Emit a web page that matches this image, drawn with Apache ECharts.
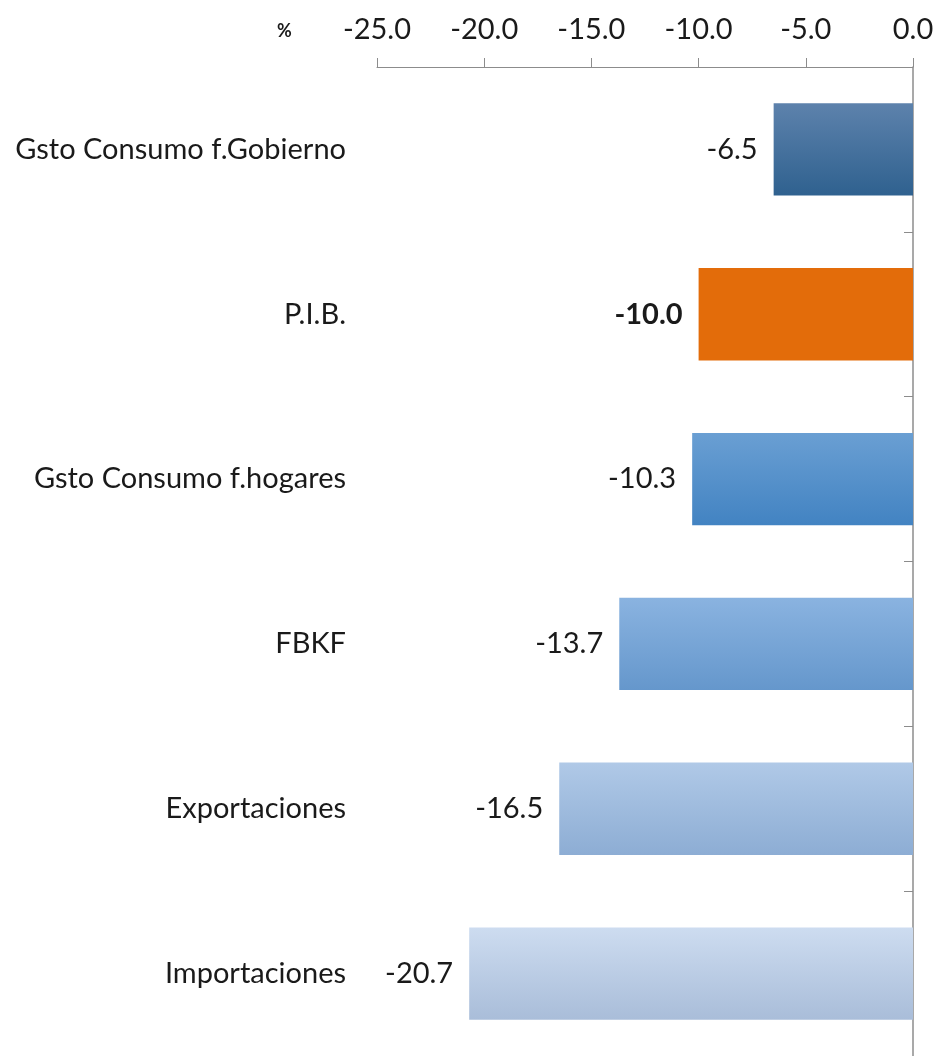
<!DOCTYPE html>
<html>
<head>
<meta charset="utf-8">
<script src="https://cdn.jsdelivr.net/npm/echarts@6/dist/echarts.min.js"></script>
<style>
  html, body { margin: 0; padding: 0; background: #fff; }
  #chart { width: 939px; height: 1056px; }
</style>
</head>
<body>
<div id="chart"></div>
<script>
// categorías (de arriba hacia abajo) y variación en %
const categories = ['Gsto Consumo f.Gobierno', 'P.I.B.', 'Gsto Consumo f.hogares', 'FBKF', 'Exportaciones', 'Importaciones']
const values = [-6.5, -10.0, -10.3, -13.7, -16.5, -20.7]
const highlight = 'P.I.B.'

// colores de cada barra: [arriba, abajo]
const barColors = [
  ['#5d82ac', '#2f618f'],
  ['#e36c0a', '#e36c0a'],
  ['#6a9fd3', '#4283c2'],
  ['#8ab3e0', '#6597cc'],
  ['#b0c9e7', '#8dadd4'],
  ['#cddcf0', '#a9bdd9']
]

const font = 'Lato, "Open Sans", sans-serif'
const chart = echarts.init(document.getElementById('chart'))

const seriesData = values.map((v, i) => {
  const isHl = categories[i] === highlight
  return {
    value: v,
    itemStyle: {
      color: new echarts.graphic.LinearGradient(0, 0, 0, 1, [
        { offset: 0, color: barColors[i][0] },
        { offset: 1, color: barColors[i][1] }
      ])
    },
    label: isHl ? { fontWeight: 'bold' } : undefined
  }
})

const option = {
  animation: false,
  grid: { left: 377, right: 26, top: 67, bottom: -2 },
  graphic: [{
    type: 'text', left: 277, top: 22,
    style: { text: '%', fontSize: 18, fontWeight: 'bold', fontFamily: font, fill: '#1a1a1a' }
  }],
  xAxis: {
    type: 'value',
    position: 'top',
    min: -25,
    max: 0,
    interval: 5,
    axisLine: { show: true, lineStyle: { color: '#8c8c8c', width: 1 } },
    axisTick: { show: true, length: 9, lineStyle: { color: '#8c8c8c' } },
    axisLabel: {
      margin: 23,
      fontSize: 29,
      fontFamily: font,
      color: '#1a1a1a',
      formatter: v => v.toFixed(1)
    },
    splitLine: { show: false }
  },
  yAxis: [
    {
      type: 'category',
      data: categories,
      inverse: true,
      position: 'left',
      axisLine: { show: false },
      axisTick: { show: false },
      axisLabel: { margin: 31, fontSize: 29, fontFamily: font, color: '#1a1a1a' }
    },
    {
      type: 'category',
      data: categories,
      inverse: true,
      position: 'right',
      axisLine: { show: true, onZero: false, lineStyle: { color: '#8c8c8c', width: 1.5 } },
      axisTick: { show: true, inside: true, length: 9, lineStyle: { color: '#8c8c8c' } },
      axisLabel: { show: false }
    }
  ],
  series: [{
    type: 'bar',
    yAxisIndex: 0,
    data: seriesData,
    barWidth: '56%',
    label: {
      show: true,
      position: 'left',
      distance: 16,
      fontSize: 29,
      fontFamily: font,
      color: '#1a1a1a',
      formatter: p => p.value.toFixed(1)
    }
  }]
}

chart.setOption(option)
</script>
</body>
</html>
